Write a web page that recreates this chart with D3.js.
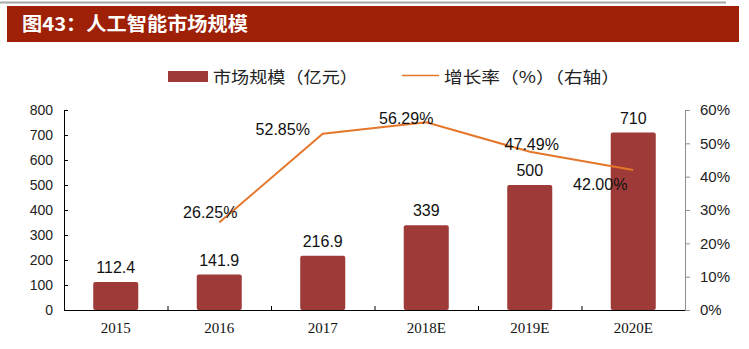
<!DOCTYPE html>
<html>
<head>
<meta charset="utf-8">
<script src="https://cdn.jsdelivr.net/npm/d3@7"></script>
<style>
  html, body { margin: 0; padding: 0; background: #fff; }
  svg { display: block; }
</style>
</head>
<body>
<svg id="chart" width="749" height="349"></svg>
<script>
// ---- data ----
const categories = ["2015", "2016", "2017", "2018E", "2019E", "2020E"];
const marketSize = [112.4, 141.9, 216.9, 339, 500, 710];
const marketLabels = ["112.4", "141.9", "216.9", "339", "500", "710"];
const growthCategories = ["2016", "2017", "2018E", "2019E", "2020E"];
const growthRate = [0.2625, 0.5285, 0.5629, 0.4749, 0.42];
const growthLabels = ["26.25%", "52.85%", "56.29%", "47.49%", "42.00%"];
const leftTicks = [0, 100, 200, 300, 400, 500, 600, 700, 800];
const rightTicks = [0, 0.1, 0.2, 0.3, 0.4, 0.5, 0.6];
const titleText = "图43：人工智能市场规模";
const legendBar = "市场规模（亿元）";
const legendLine = "增长率（%）（右轴）";

// label placement (offsets relative to each line point)
const growthLabelDx = [-9, -40, -20, 2, -33];
const growthLabelDy = [-5, 1, 2, -2, 20];

// ---- style ----
const barColor = "#9E3A38";
const lineColor = "#E5772B";
const titleColor = "#9E2006";
const sans = "'Liberation Sans', Arial, sans-serif";
const serif = "'Liberation Serif', 'Times New Roman', serif";
const cjk = "'Noto Sans CJK SC', sans-serif";

const svg = d3.select("#chart");

// header
svg.append("line").attr("x1", 0).attr("x2", 726).attr("y1", 2.5).attr("y2", 2.5)
  .attr("stroke", "#A6A6A6").attr("stroke-width", 2);
svg.append("rect").attr("x", 7).attr("y", 6).attr("width", 732).attr("height", 36)
  .attr("fill", titleColor);
svg.append("text").attr("x", 22).attr("y", 31)
  .attr("fill", "#fff").attr("font-family", cjk).attr("font-weight", "bold")
  .attr("font-size", 19).attr("textLength", 226).attr("lengthAdjust", "spacingAndGlyphs")
  .text(titleText);

// legend
svg.append("rect").attr("x", 168).attr("y", 71).attr("width", 40).attr("height", 11)
  .attr("fill", barColor);
svg.append("text").attr("x", 213).attr("y", 83)
  .attr("font-family", cjk).attr("font-size", 16).attr("fill", "#222")
  .attr("textLength", 145).attr("lengthAdjust", "spacingAndGlyphs")
  .text(legendBar);
svg.append("line").attr("x1", 402).attr("x2", 439).attr("y1", 75.5).attr("y2", 75.5)
  .attr("stroke", lineColor).attr("stroke-width", 1.5);
svg.append("text").attr("x", 444).attr("y", 83)
  .attr("font-family", cjk).attr("font-size", 16).attr("fill", "#222")
  .attr("textLength", 176).attr("lengthAdjust", "spacingAndGlyphs")
  .text(legendLine);

// scales
const x0 = 64, x1 = 685, yBottom = 310, yTop = 110;
const x = d3.scaleBand().domain(categories).range([x0, x1])
  .paddingInner(0.565).paddingOuter(0.2825);
const xEdge = d3.scaleLinear().domain([0, categories.length]).range([x0, x1]);
const yL = d3.scaleLinear().domain([0, 800]).range([yBottom, yTop]);
const yR = d3.scaleLinear().domain([0, 0.6]).range([yBottom, yTop]);
const cx = c => x(c) + x.bandwidth() / 2;

// bars
svg.append("g").selectAll("rect").data(categories).join("rect")
  .attr("x", d => x(d))
  .attr("y", (d, i) => yL(marketSize[i]))
  .attr("width", x.bandwidth())
  .attr("height", (d, i) => yBottom - yL(marketSize[i]))
  .attr("rx", 2)
  .attr("fill", barColor);

// bar labels
svg.append("g").selectAll("text").data(categories).join("text")
  .attr("x", d => cx(d))
  .attr("y", (d, i) => yL(marketSize[i]) - 9)
  .attr("text-anchor", "middle")
  .attr("font-family", sans).attr("font-size", 16).attr("fill", "#111")
  .text((d, i) => marketLabels[i]);

// left axis
const gL = svg.append("g").attr("transform", `translate(${x0},0)`)
  .call(d3.axisLeft(yL).tickValues(leftTicks).tickSizeInner(-4).tickSizeOuter(0).tickPadding(11));
gL.select(".domain").attr("stroke", "#000");
gL.selectAll(".tick line").attr("stroke", "#000");
gL.selectAll(".tick text").attr("font-family", sans).attr("font-size", 14).attr("fill", "#222");

// right axis
const gR = svg.append("g").attr("transform", `translate(${x1},0)`)
  .call(d3.axisRight(yR).tickValues(rightTicks).tickSizeInner(5).tickSizeOuter(0).tickPadding(10)
    .tickFormat(d3.format(".0%")));
gR.select(".domain").attr("stroke", "#8C8C8C");
gR.selectAll(".tick line").attr("stroke", "#8C8C8C");
gR.selectAll(".tick text").attr("font-family", sans).attr("font-size", 15).attr("fill", "#222");

// x axis
const gX = svg.append("g").attr("transform", `translate(0,${yBottom})`)
  .call(d3.axisBottom(x).tickSize(0).tickPadding(12));
gX.select(".domain").remove();
gX.selectAll(".tick text").attr("font-family", serif).attr("font-size", 15).attr("fill", "#111");
const gXT = svg.append("g").attr("transform", `translate(0,${yBottom})`)
  .call(d3.axisBottom(xEdge).tickValues(d3.range(1, categories.length)).tickSizeInner(-4)
    .tickSizeOuter(0).tickFormat(""));
gXT.select(".domain").attr("d", `M${x0},0.5H${x1}`).attr("stroke", "#000");
gXT.selectAll(".tick line").attr("stroke", "#000");

// growth line
const line = d3.line().x((d, i) => cx(growthCategories[i])).y(d => yR(d));
svg.append("path").datum(growthRate)
  .attr("d", line).attr("fill", "none")
  .attr("stroke", lineColor).attr("stroke-width", 2);

// growth labels
svg.append("g").selectAll("text").data(growthCategories).join("text")
  .attr("x", (d, i) => cx(d) + growthLabelDx[i])
  .attr("y", (d, i) => yR(growthRate[i]) + growthLabelDy[i])
  .attr("text-anchor", "middle")
  .attr("font-family", sans).attr("font-size", 16).attr("fill", "#111")
  .text((d, i) => growthLabels[i]);
</script>
</body>
</html>
